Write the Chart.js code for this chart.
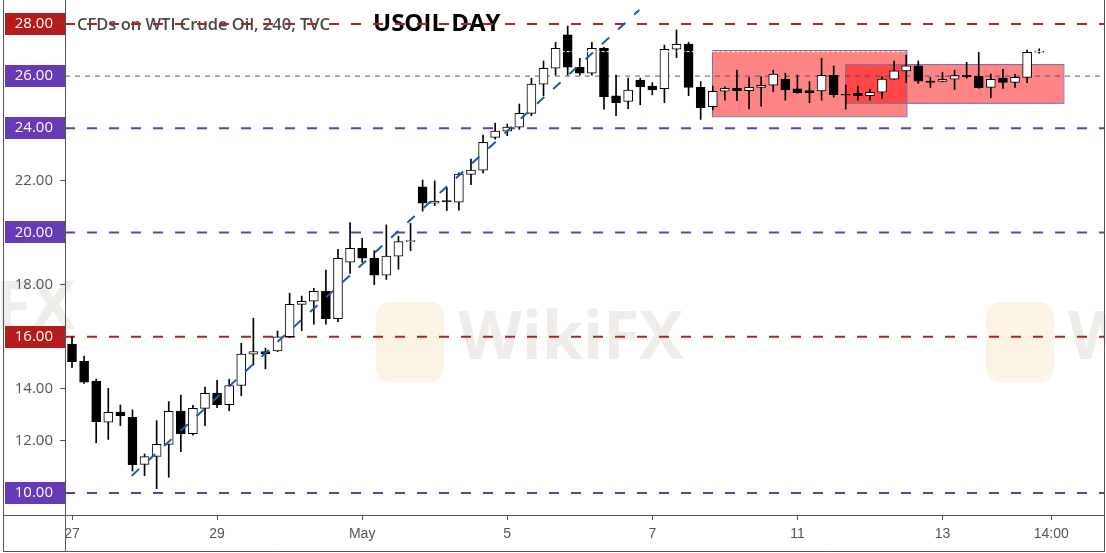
<!DOCTYPE html>
<html>
<head>
<meta charset="utf-8">
<title>USOIL DAY</title>
<script src="https://cdn.jsdelivr.net/npm/chart.js@4.4.0/dist/chart.umd.min.js"></script>
<style>
  html, body { margin: 0; padding: 0; background: #fff; }
</style>
</head>
<body>
<canvas id="oilChart" width="1106" height="553"></canvas>
<script>
// 4h candles, Apr 27 - May 14 (x = candle number)
const opens = [15.72, 15.06, 14.30, 12.72, 13.11, 12.91, 11.10, 11.41, 11.87, 13.15,
  12.28, 13.25, 13.84, 13.39, 14.13, 15.33, 15.43, 15.46, 16.00, 17.24,
  17.36, 17.74, 16.69, 18.86, 19.39, 19.01, 18.36, 19.09, 19.65, 21.75,
  21.12, 21.22, 21.16, 22.23, 22.39, 23.65, 23.89, 24.04, 24.57, 25.69,
  26.30, 27.58, 26.34, 26.11, 27.07, 25.24, 25.03, 25.85, 25.62, 25.52,
  27.03, 27.23, 25.57, 24.83, 25.42, 25.53, 25.44, 25.57, 25.65, 25.89,
  25.51, 25.44, 25.43, 26.03, 25.31, 25.35, 25.25, 25.38, 25.88, 26.20,
  26.39, 25.81, 25.80, 25.88, 26.04, 25.99, 25.57, 25.92, 25.76, 25.95, 26.92];
const highs = [16.00, 15.26, 14.37, 14.02, 13.38, 13.19, 11.50, 12.78, 13.51, 13.76,
  13.37, 14.07, 14.33, 14.37, 15.75, 16.71, 15.56, 16.22, 17.67, 17.56,
  17.86, 18.56, 19.35, 20.38, 19.78, 19.30, 20.29, 19.86, 20.35, 22.01,
  21.98, 21.72, 22.29, 22.82, 23.74, 24.20, 24.16, 24.93, 25.92, 26.58,
  27.30, 27.92, 26.68, 27.30, 27.10, 26.04, 25.92, 25.92, 25.75, 27.19,
  27.77, 27.30, 25.79, 25.62, 25.59, 26.23, 25.94, 25.98, 26.23, 26.11,
  26.04, 25.79, 26.68, 26.39, 25.66, 25.62, 25.49, 25.98, 26.58, 26.81,
  26.58, 25.95, 26.15, 26.23, 26.53, 26.91, 26.08, 26.26, 26.07, 27.00, 27.05];
const lows = [14.81, 14.21, 11.93, 12.06, 12.59, 10.85, 10.67, 10.17, 10.61, 11.59,
  12.22, 12.59, 13.28, 13.16, 13.74, 14.92, 14.77, 15.43, 15.97, 16.23,
  16.48, 16.48, 16.58, 18.43, 18.86, 18.00, 18.20, 18.59, 19.30, 20.82,
  21.03, 20.84, 20.86, 21.83, 22.29, 23.58, 23.71, 23.96, 24.48, 25.25,
  26.04, 26.04, 26.04, 26.04, 24.73, 24.48, 24.75, 24.90, 25.28, 24.98,
  26.71, 25.25, 24.34, 24.70, 25.08, 25.06, 24.74, 24.85, 25.40, 25.08,
  25.34, 24.98, 25.08, 25.19, 24.73, 25.08, 25.08, 25.15, 25.86, 25.75,
  25.72, 25.56, 25.78, 25.49, 25.92, 25.53, 25.17, 25.53, 25.57, 25.75, 26.88];
const closes = [15.04, 14.26, 12.74, 13.10, 12.97, 11.09, 11.40, 11.87, 13.14, 12.28,
  13.25, 13.83, 13.39, 14.13, 15.33, 15.43, 15.34, 16.00, 17.24, 17.36,
  17.74, 16.69, 19.01, 19.39, 19.01, 18.36, 19.09, 19.65, 19.69, 21.12,
  21.20, 21.17, 22.24, 22.39, 23.46, 23.89, 24.04, 24.57, 25.69, 26.30,
  27.07, 26.34, 26.11, 27.07, 25.21, 24.98, 25.46, 25.59, 25.47, 27.03,
  27.22, 25.57, 24.79, 25.42, 25.53, 25.44, 25.57, 25.65, 26.08, 25.47,
  25.36, 25.36, 26.03, 25.29, 25.27, 25.25, 25.38, 25.89, 26.20, 26.39,
  25.81, 25.76, 25.88, 26.02, 25.98, 25.56, 25.88, 25.76, 25.95, 26.91, 26.95];

// time axis labels, placed at candle numbers
const dateTicks = [0, 12, 24, 36, 48, 60, 72, 81];
const dateLabels = ["27", "29", "May", "5", "7", "11", "13", "14:00"];

const priceTicks = [10, 12, 14, 16, 18, 20, 22, 24, 26, 28];
const redLevels = [28, 16];
const purpleLevels = [24, 20, 10];
const midLevel = 26;

const trendLine = [{ x: 4.94, y: 10.67 }, { x: 46.92, y: 28.54 }];
const rangeTop = [{ x: 40.5, y: 26.94 }, { x: 69.04, y: 26.94 }];
const zones = [
  { x0: 52.96, x1: 69.04, top: 27.0, bottom: 24.46 },
  { x0: 63.94, x1: 82.0, top: 26.45, bottom: 24.96 },
];

const X_MIN = -0.58, X_MAX = 85.36;
const Y_MIN = 9.16, Y_MAX = 28.92;

const RED = "#b71c1c";
const PURPLE = "#673ab7";
const AXIS = "#555555";

const idx = opens.map((_, i) => i);
const isUp = idx.map((i) => closes[i] >= opens[i]);

function levelLine(value, color, width, dash, order) {
  return {
    type: "line",
    data: [{ x: X_MIN, y: value }, { x: X_MAX, y: value }],
    borderColor: color,
    borderWidth: width,
    borderDash: dash,
    pointRadius: 0,
    order: order,
  };
}

function isBoxed(v) {
  return redLevels.includes(v) || purpleLevels.includes(v) || v === midLevel;
}

// --- background: watermark, label boxes, titles ---

function drawMark(ctx, x, y, alpha) {
  ctx.save();
  ctx.globalAlpha = alpha;
  ctx.fillStyle = "#f3d9a4";
  ctx.beginPath();
  ctx.roundRect(x, y, 68, 80, 14);
  ctx.fill();
  ctx.fillStyle = "#c9c2bb";
  ctx.font = "bold 66px 'Open Sans', sans-serif";
  ctx.textBaseline = "middle";
  ctx.fillText("WikiFX", x + 82, y + 38);
  ctx.restore();
}

const backdrop = {
  id: "backdrop",
  beforeDraw(chart) {
    const { ctx } = chart;
    const y = chart.scales.y;
    ctx.save();
    ctx.fillStyle = "#fff";
    ctx.fillRect(0, 0, chart.width, chart.height);

    drawMark(ctx, 376, 302, 0.3);
    drawMark(ctx, 986, 302, 0.3);
    drawMark(ctx, -232, 272, 0.3);

    priceTicks.forEach((v) => {
      if (!isBoxed(v)) return;
      const py = y.getPixelForValue(v);
      ctx.fillStyle = redLevels.includes(v) ? RED : PURPLE;
      ctx.fillRect(5, Math.round(py) - 11, 60, 22);
    });

    ctx.textBaseline = "middle";
    ctx.fillStyle = "#474747";
    ctx.font = "600 16.5px 'Open Sans', sans-serif";
    ctx.fillText("CFDs on WTI Crude Oil, 240, TVC", 77, y.getPixelForValue(28) + 1);
    ctx.fillStyle = "#000";
    ctx.font = "bold 24px 'Open Sans', sans-serif";
    ctx.fillText("USOIL DAY", 373, y.getPixelForValue(28));
    ctx.restore();
  },
};

// --- rectangles behind candles ---

const zonePlugin = {
  id: "zones",
  beforeDatasetsDraw(chart) {
    const { ctx, chartArea } = chart;
    const { x, y } = chart.scales;
    ctx.save();
    ctx.beginPath();
    ctx.rect(chartArea.left, chartArea.top, chartArea.right - chartArea.left, chartArea.bottom - chartArea.top);
    ctx.clip();
    zones.forEach((z) => {
      const left = x.getPixelForValue(z.x0);
      const right = x.getPixelForValue(z.x1);
      const top = y.getPixelForValue(z.top);
      const bottom = y.getPixelForValue(z.bottom);
      ctx.fillStyle = "rgba(255, 0, 0, 0.48)";
      ctx.fillRect(left, top, right - left, bottom - top);
    });
    zones.forEach((z) => {
      const left = x.getPixelForValue(z.x0);
      const right = x.getPixelForValue(z.x1);
      const top = y.getPixelForValue(z.top);
      const bottom = y.getPixelForValue(z.bottom);
      ctx.strokeStyle = "#7d6fa8";
      ctx.lineWidth = 1;
      ctx.strokeRect(Math.round(left) + 0.5, Math.round(top) + 0.5, right - left, bottom - top);
    });
    ctx.restore();
  },
};

// --- outer frame ---

const framePlugin = {
  id: "frame",
  afterDraw(chart) {
    const { ctx, chartArea } = chart;
    ctx.save();
    ctx.strokeStyle = AXIS;
    ctx.lineWidth = 1;
    ctx.beginPath();
    ctx.moveTo(3.5, 0);
    ctx.lineTo(3.5, 551.5);
    ctx.lineTo(1104.5, 551.5);
    ctx.lineTo(1104.5, 0);
    ctx.moveTo(3.5, chartArea.bottom + 0.5);
    ctx.lineTo(chartArea.left, chartArea.bottom + 0.5);
    ctx.moveTo(chartArea.left + 0.5, 0);
    ctx.lineTo(chartArea.left + 0.5, 551.5);
    ctx.stroke();
    ctx.restore();
  },
};

const datasets = [
  {
    type: "bar",
    label: "body",
    data: idx.map((i) => ({ x: i, y: [opens[i], closes[i]] })),
    backgroundColor: idx.map((i) => (isUp[i] ? "#ffffff" : "#000000")),
    borderColor: "#000",
    borderWidth: 1,
    borderSkipped: false,
    barThickness: 9,
    minBarLength: 1,
    grouped: false,
    order: 1,
  },
  {
    type: "bar",
    label: "wick",
    data: idx.map((i) => ({ x: i, y: [lows[i], highs[i]] })),
    backgroundColor: "#000",
    borderWidth: 0,
    barThickness: 1,
    grouped: false,
    order: 2,
  },
  {
    type: "line",
    data: trendLine,
    borderColor: "#2358a6",
    borderWidth: 2,
    borderDash: [10, 12],
    pointRadius: 0,
    order: 0,
  },
  {
    type: "line",
    data: rangeTop,
    borderColor: "#ffffff",
    borderWidth: 1,
    borderDash: [3, 2],
    pointRadius: 0,
    order: 0,
  },
  levelLine(midLevel, "rgba(70, 60, 110, 0.85)", 1, [5, 5], 5),
  ...redLevels.map((v) => levelLine(v, "#ad2424", 2, [10, 12], 5)),
  ...purpleLevels.map((v) => levelLine(v, PURPLE, 2, [10, 12], 5)),
];

new Chart(document.getElementById("oilChart"), {
  type: "bar",
  data: { datasets },
  options: {
    responsive: false,
    animation: false,
    events: [],
    layout: { padding: { left: 0, right: 2, top: 0, bottom: 0 }, autoPadding: false },
    plugins: {
      legend: { display: false },
      tooltip: { enabled: false },
    },
    scales: {
      x: {
        type: "linear",
        min: X_MIN,
        max: X_MAX,
        offset: false,
        grid: { offset: false, drawOnChartArea: false, tickLength: 5, tickColor: AXIS },
        border: { color: AXIS },
        afterBuildTicks(scale) {
          scale.ticks = dateTicks.map((v) => ({ value: v }));
        },
        afterFit(scale) {
          scale.height = 38;
          scale.paddingLeft = 0;
          scale.paddingRight = 0;
        },
        ticks: {
          autoSkip: false,
          maxRotation: 0,
          padding: 6,
          color: AXIS,
          font: { family: "'Liberation Sans Narrow', 'Liberation Sans', sans-serif", size: 14 },
          callback: (value, index) => dateLabels[index],
        },
      },
      y: {
        type: "linear",
        position: "left",
        min: Y_MIN,
        max: Y_MAX,
        beginAtZero: false,
        grid: { drawOnChartArea: false, tickLength: 5, tickColor: AXIS },
        border: { color: AXIS },
        afterBuildTicks(scale) {
          scale.ticks = priceTicks.map((v) => ({ value: v }));
        },
        afterFit(scale) {
          scale.width = 65;
          scale.paddingTop = 0;
          scale.paddingBottom = 0;
        },
        ticks: {
          padding: 7,
          font: { family: "'Open Sans', sans-serif", size: 15 },
          color: (c) => (isBoxed(c.tick.value) ? "#ffffff" : AXIS),
          callback: (value) => value.toFixed(2),
        },
      },
    },
  },
  plugins: [backdrop, zonePlugin, framePlugin],
});
</script>
</body>
</html>
